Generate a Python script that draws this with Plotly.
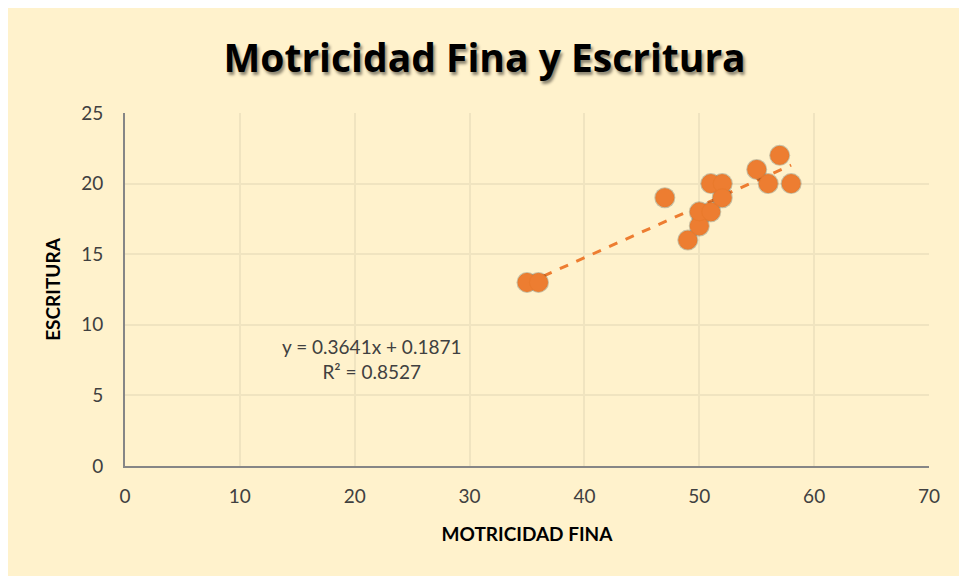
import plotly.graph_objects as go

motricidad = [35, 36, 47, 49, 50, 50, 51, 51, 52, 52, 55, 56, 57, 58]
escritura = [13, 13, 19, 16, 17, 18, 18, 20, 20, 19, 21, 20, 22, 20]
slope = 0.3641
intercept = 0.1871
r2 = 0.8527
x_ticks = [0, 10, 20, 30, 40, 50, 60, 70]
y_ticks = [0, 5, 10, 15, 20, 25]

BG = "#FFF2CC"
ORANGE = "#ED7D31"
TXT = "#404040"
FONT = "Lato"

x_min, x_max = min(motricidad), max(motricidad)
trend_x = [x_min, x_max]
trend_y = [slope * v + intercept for v in trend_x]

fig = go.Figure()
fig.add_trace(go.Scatter(
    x=trend_x, y=trend_y, mode="lines",
    line=dict(color=ORANGE, width=3, dash="dash"),
    hoverinfo="skip", showlegend=False,
))
# soft shadow
fig.add_trace(go.Scatter(
    x=motricidad, y=escritura, mode="markers",
    marker=dict(size=21, color="rgba(0,0,0,0.22)", line=dict(width=0)),
    hoverinfo="skip", showlegend=False,
))
fig.add_trace(go.Scatter(
    x=motricidad, y=escritura, mode="markers",
    marker=dict(size=18, color=ORANGE, line=dict(color="#EA7A2C", width=1)),
    showlegend=False,
))

fig.add_annotation(
    x=21.5, y=7.6, xref="x", yref="y",
    text=f"y = {slope}x + {intercept}<br>R² = {r2}",
    showarrow=False, font=dict(family=FONT, size=19, color=TXT),
    align="center",
)

fig.update_layout(
    width=959, height=568,
    margin=dict(l=117, r=38, t=105, b=110),
    paper_bgcolor=BG, plot_bgcolor=BG,
    title=dict(
        text="<b>Motricidad Fina y Escritura</b>",
        x=0.497, xanchor="center", y=0.912, yanchor="middle",
        font=dict(family="Open Sans", size=39, color="#000000", shadow="2px 3px 3px rgba(0,0,0,0.45)"),
    ),
    font=dict(family=FONT, color=TXT),
)
fig.update_xaxes(
    range=[0, 70], tickvals=x_ticks, ticktext=[str(v) for v in x_ticks],
    showgrid=True, gridcolor="#F0E4C0", gridwidth=1.5,
    showline=True, linecolor="#868686", linewidth=2,
    zeroline=False, ticks="", tickfont=dict(family=FONT, size=19, color=TXT),
    ticklabelstandoff=12,
    title=dict(text="<b>MOTRICIDAD FINA</b>", font=dict(family=FONT, size=19, color="#000000"), standoff=22),
)
fig.update_yaxes(
    range=[0, 25], tickvals=y_ticks, ticktext=[str(v) for v in y_ticks],
    showgrid=True, gridcolor="#F0E4C0", gridwidth=1.5,
    showline=True, linecolor="#868686", linewidth=2,
    zeroline=False, ticks="", tickfont=dict(family=FONT, size=19, color=TXT),
    ticklabelstandoff=16,
    title=dict(text="<b>ESCRITURA</b>", font=dict(family=FONT, size=19, color="#000000"), standoff=16),
)

fig.write_html("out.html")
